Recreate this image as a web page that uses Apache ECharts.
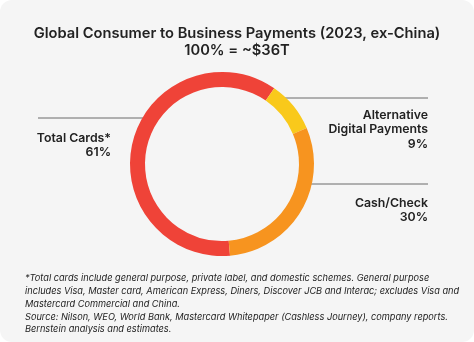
<!DOCTYPE html>
<html>
<head>
<meta charset="utf-8">
<script src="https://cdn.jsdelivr.net/npm/echarts@6/dist/echarts.min.js"></script>
<style>
  html, body { margin: 0; padding: 0; background: #ffffff; }
  #chart { width: 474px; height: 342px; }
</style>
</head>
<body>
<div id="chart"></div>
<script>
// Payment mix, share of total value
const categories = ['Total Cards*', 'Alternative\nDigital Payments', 'Cash/Check'];
const shares = [61, 9, 30];
const colors = ['#EF4338', '#F9C91B', '#F7941F'];

const titleText = 'Global Consumer to Business Payments (2023, ex-China)\n100% = ~$36T';
const footnoteLines = [
  '*Total cards include general purpose, private label, and domestic schemes. General purpose',
  'includes Visa, Master card, American Express, Diners, Discover JCB and Interac; excludes Visa and',
  'Mastercard Commercial and China.',
  'Source: Nilson, WEO, World Bank, Mastercard Whitepaper (Cashless Journey), company reports.',
  'Bernstein analysis and estimates.'
];

const FONT = 'Inter, "Noto Sans", sans-serif';
const chart = echarts.init(document.getElementById('chart'), null, { renderer: 'canvas' });

// Label anchors (right edge / top) and leader lines for each slice
const labelSpots = [
  { x: 111, y: 131, line: [[38, 118], [150, 118], [150, 118]] },
  { x: 428, y: 108, line: [[428, 98], [278, 98], [278, 98]] },
  { x: 428, y: 196, line: [[428, 184], [305, 184], [305, 184]] }
];

chart.setOption({
  backgroundColor: '#ffffff',
  animation: false,
  graphic: [{
    type: 'rect',
    z: -10,
    shape: { x: 0, y: 0, width: 474, height: 342, r: 12 },
    style: { fill: '#F5F5F5' }
  }],
  title: [{
    text: titleText,
    left: 'center',
    top: 20,
    textStyle: {
      fontFamily: FONT, fontSize: 14.7, fontWeight: 600, color: '#222222', lineHeight: 17
    }
  }, {
    text: footnoteLines.join('\n'),
    left: 20,
    top: 267,
    textStyle: {
      fontFamily: FONT, fontSize: 9.2, fontStyle: 'italic', fontWeight: 400,
      color: '#222222', lineHeight: 12.8
    }
  }],
  series: [{
    type: 'pie',
    center: [222, 164],
    radius: [77, 92],
    startAngle: -85,
    clockwise: true,
    avoidLabelOverlap: false,
    silent: true,
    data: categories.map((name, i) => ({
      name: name, value: shares[i], itemStyle: { color: colors[i] }
    })),
    label: {
      show: true,
      position: 'outside',
      formatter: '{b}\n{d}%',
      fontFamily: FONT,
      fontSize: 12.3,
      fontWeight: 600,
      color: '#222222',
      lineHeight: 14.5,
      align: 'right'
    },
    labelLine: {
      show: true,
      lineStyle: { color: '#6b6b6b', width: 1 }
    },
    labelLayout: function (params) {
      const s = labelSpots[params.dataIndex];
      return {
        x: s.x,
        y: s.y,
        align: 'right',
        verticalAlign: 'top',
        labelLinePoints: s.line
      };
    }
  }]
});
</script>
</body>
</html>
